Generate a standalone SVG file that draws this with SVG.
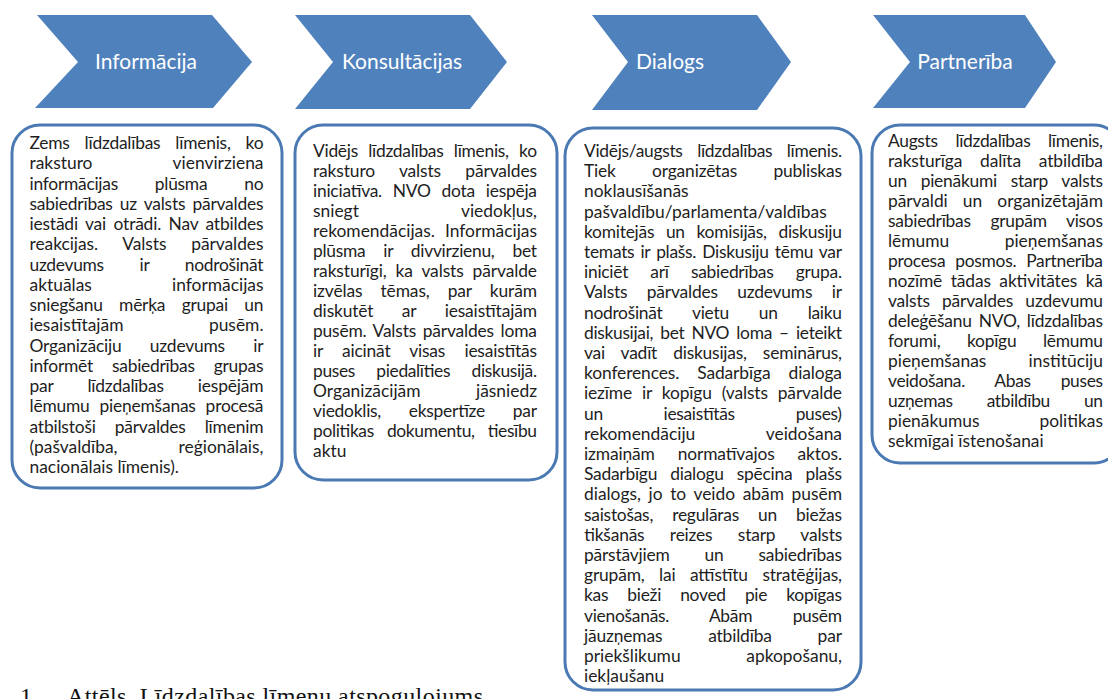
<svg xmlns="http://www.w3.org/2000/svg" width="1108" height="699" viewBox="0 0 1108 699">
<style>
.chev{fill:#4F81BD}
.ct{font-family:Lato,"Open Sans",sans-serif;font-size:21px;fill:#fff;text-anchor:middle}
.box{fill:#fff;stroke:#4A79B3;stroke-width:3}
text.t{font-family:Lato,"Open Sans",sans-serif;font-size:17.4px;fill:#1e1e1e}
.e{text-anchor:end}
.cap{font-family:"Liberation Serif",serif;font-size:24px;fill:#111}
</style>
<rect width="1108" height="699" fill="#fff"/>
<g id="chevrons">
<g id="chev-informacija"><polygon class="chev" points="37,15 212,15 252,62 213,108 35,108 78,62"/><text class="ct" x="146" y="69">Informācija</text></g>
<g id="chev-konsultacijas"><polygon class="chev" points="295,15 470,15 507,62 470,109 295,109 333,62"/><text class="ct" x="402" y="69">Konsultācijas</text></g>
<g id="chev-dialogs"><polygon class="chev" points="592,15 757,15 791,62 757,110 592,110 628,62"/><text class="ct" x="670" y="69">Dialogs</text></g>
<g id="chev-partneriba"><polygon class="chev" points="873,15 1025,15 1056,62 1025,108 873,108 910,62"/><text class="ct" x="965" y="69">Partnerība</text></g>
</g>
<g id="connectors"></g>
<g id="box-informacija">
<rect class="box" x="12" y="125" width="270" height="363" rx="28"/>
<text class="t" x="29.5" y="149" textLength="234" lengthAdjust="spacing" style="word-spacing:10.7px">Zems līdzdalības līmenis, ko</text>
<text class="t" x="29.5" y="169.25">raksturo</text><text class="t e" x="263.5" y="169.25">vienvirziena</text>
<text class="t" x="29.5" y="189.5" textLength="234" lengthAdjust="spacing" style="word-spacing:32.7px">informācijas plūsma no</text>
<text class="t" x="29.5" y="209.75" textLength="234" lengthAdjust="spacing" style="word-spacing:2.9px">sabiedrības uz valsts pārvaldes</text>
<text class="t" x="29.5" y="230" textLength="234" lengthAdjust="spacing" style="word-spacing:3.2px">iestādi vai otrādi. Nav atbildes</text>
<text class="t" x="29.5" y="250.25" textLength="234" lengthAdjust="spacing" style="word-spacing:20.4px">reakcijas. Valsts pārvaldes</text>
<text class="t" x="29.5" y="270.5" textLength="234" lengthAdjust="spacing" style="word-spacing:31.6px">uzdevums ir nodrošināt</text>
<text class="t" x="29.5" y="290.75">aktuālas</text><text class="t e" x="263.5" y="290.75">informācijas</text>
<text class="t" x="29.5" y="311" textLength="234" lengthAdjust="spacing" style="word-spacing:12.2px">sniegšanu mērķa grupai un</text>
<text class="t" x="29.5" y="331.25">iesaistītajām</text><text class="t e" x="263.5" y="331.25">pusēm.</text>
<text class="t" x="29.5" y="351.5" textLength="234" lengthAdjust="spacing" style="word-spacing:24px">Organizāciju uzdevums ir</text>
<text class="t" x="29.5" y="371.75" textLength="234" lengthAdjust="spacing" style="word-spacing:14.8px">informēt sabiedrības grupas</text>
<text class="t" x="29.5" y="392" textLength="234" lengthAdjust="spacing" style="word-spacing:29.8px">par līdzdalības iespējām</text>
<text class="t" x="29.5" y="412.25" textLength="234" lengthAdjust="spacing" style="word-spacing:5.7px">lēmumu pieņemšanas procesā</text>
<text class="t" x="29.5" y="432.5" textLength="234" lengthAdjust="spacing" style="word-spacing:14.7px">atbilstoši pārvaldes līmenim</text>
<text class="t" x="29.5" y="452.75">(pašvaldība,</text><text class="t e" x="263.5" y="452.75">reģionālais,</text>
<text class="t" x="29.5" y="473">nacionālais līmenis).</text>
</g>
<g id="box-konsultacijas">
<rect class="box" x="295" y="125" width="262" height="355" rx="28"/>
<text class="t" x="313" y="157" textLength="224" lengthAdjust="spacing" style="word-spacing:6.2px">Vidējs līdzdalības līmenis, ko</text>
<text class="t" x="313" y="177" textLength="224" lengthAdjust="spacing" style="word-spacing:20px">raksturo valsts pārvaldes</text>
<text class="t" x="313" y="197" textLength="224" lengthAdjust="spacing" style="word-spacing:6.6px">iniciatīva. NVO dota iespēja</text>
<text class="t" x="313" y="217">sniegt</text><text class="t e" x="537" y="217">viedokļus,</text>
<text class="t" x="313" y="237">rekomendācijas.</text><text class="t e" x="537" y="237">Informācijas</text>
<text class="t" x="313" y="257" textLength="224" lengthAdjust="spacing" style="word-spacing:13.8px">plūsma ir divvirzienu, bet</text>
<text class="t" x="313" y="277" textLength="224" lengthAdjust="spacing" style="word-spacing:4.6px">raksturīgi, ka valsts pārvalde</text>
<text class="t" x="313" y="297" textLength="224" lengthAdjust="spacing" style="word-spacing:13.7px">izvēlas tēmas, par kurām</text>
<text class="t" x="313" y="317" textLength="224" lengthAdjust="spacing" style="word-spacing:24.2px">diskutēt ar iesaistītajām</text>
<text class="t" x="313" y="337" textLength="224" lengthAdjust="spacing" style="word-spacing:2.4px">pusēm. Valsts pārvaldes loma</text>
<text class="t" x="313" y="357" textLength="224" lengthAdjust="spacing" style="word-spacing:15px">ir aicināt visas iesaistītās</text>
<text class="t" x="313" y="377" textLength="224" lengthAdjust="spacing" style="word-spacing:17.3px">puses piedalīties diskusijā.</text>
<text class="t" x="313" y="397">Organizācijām</text><text class="t e" x="537" y="397">jāsniedz</text>
<text class="t" x="313" y="417" textLength="224" lengthAdjust="spacing" style="word-spacing:23.6px">viedoklis, ekspertīze par</text>
<text class="t" x="313" y="437" textLength="224" lengthAdjust="spacing" style="word-spacing:9px">politikas dokumentu, tiesību</text>
<text class="t" x="313" y="457">aktu</text>
</g>
<g id="box-dialogs">
<rect class="box" x="565" y="128" width="296" height="562" rx="28"/>
<text class="t" x="584" y="157" textLength="258" lengthAdjust="spacing" style="word-spacing:10.4px">Vidējs/augsts līdzdalības līmenis.</text>
<text class="t" x="584" y="177.2" textLength="258" lengthAdjust="spacing" style="word-spacing:32.1px">Tiek organizētas publiskas</text>
<text class="t" x="584" y="197.4">noklausīšanās</text>
<text class="t" x="584" y="217.6">pašvaldību/parlamenta/valdības</text>
<text class="t" x="584" y="237.8" textLength="258" lengthAdjust="spacing" style="word-spacing:7.5px">komitejās un komisijās, diskusiju</text>
<text class="t" x="584" y="258" textLength="258" lengthAdjust="spacing" style="word-spacing:1.9px">temats ir plašs. Diskusiju tēmu var</text>
<text class="t" x="584" y="278.2" textLength="258" lengthAdjust="spacing" style="word-spacing:18px">iniciēt arī sabiedrības grupa.</text>
<text class="t" x="584" y="298.4" textLength="258" lengthAdjust="spacing" style="word-spacing:15.1px">Valsts pārvaldes uzdevums ir</text>
<text class="t" x="584" y="318.6" textLength="258" lengthAdjust="spacing" style="word-spacing:25.9px">nodrošināt vietu un laiku</text>
<text class="t" x="584" y="338.8" textLength="258" lengthAdjust="spacing" style="word-spacing:3px">diskusijai, bet NVO loma – ieteikt</text>
<text class="t" x="584" y="359" textLength="258" lengthAdjust="spacing" style="word-spacing:11.8px">vai vadīt diskusijas, seminārus,</text>
<text class="t" x="584" y="379.2" textLength="258" lengthAdjust="spacing" style="word-spacing:13.7px">konferences. Sadarbīga dialoga</text>
<text class="t" x="584" y="399.4" textLength="258" lengthAdjust="spacing" style="word-spacing:5.6px">iezīme ir kopīgu (valsts pārvalde</text>
<text class="t" x="584" y="419.6" textLength="258" lengthAdjust="spacing" style="word-spacing:56.7px">un iesaistītās puses)</text>
<text class="t" x="584" y="439.8">rekomendāciju</text><text class="t e" x="842" y="439.8">veidošana</text>
<text class="t" x="584" y="460" textLength="258" lengthAdjust="spacing" style="word-spacing:18.7px">izmaiņām normatīvajos aktos.</text>
<text class="t" x="584" y="480.2" textLength="258" lengthAdjust="spacing" style="word-spacing:8.9px">Sadarbīgu dialogu spēcina plašs</text>
<text class="t" x="584" y="500.4" textLength="258" lengthAdjust="spacing" style="word-spacing:3.2px">dialogs, jo to veido abām pusēm</text>
<text class="t" x="584" y="520.6" textLength="258" lengthAdjust="spacing" style="word-spacing:14.9px">saistošas, regulāras un biežas</text>
<text class="t" x="584" y="540.8" textLength="258" lengthAdjust="spacing" style="word-spacing:21.2px">tikšanās reizes starp valsts</text>
<text class="t" x="584" y="561" textLength="258" lengthAdjust="spacing" style="word-spacing:30.7px">pārstāvjiem un sabiedrības</text>
<text class="t" x="584" y="581.2" textLength="258" lengthAdjust="spacing" style="word-spacing:10.2px">grupām, lai attīstītu stratēģijas,</text>
<text class="t" x="584" y="601.4" textLength="258" lengthAdjust="spacing" style="word-spacing:14.9px">kas bieži noved pie kopīgas</text>
<text class="t" x="584" y="621.6" textLength="258" lengthAdjust="spacing" style="word-spacing:36.2px">vienošanās. Abām pusēm</text>
<text class="t" x="584" y="641.8" textLength="258" lengthAdjust="spacing" style="word-spacing:41.6px">jāuzņemas atbildība par</text>
<text class="t" x="584" y="662">priekšlikumu</text><text class="t e" x="842" y="662">apkopošanu,</text>
<text class="t" x="584" y="682.2">iekļaušanu</text>
</g>
<g id="box-partneriba">
<rect class="box" x="872" y="125" width="250" height="338" rx="28"/>
<text class="t" x="888" y="147" textLength="215" lengthAdjust="spacing" style="word-spacing:13.5px">Augsts līdzdalības līmenis,</text>
<text class="t" x="888" y="167" textLength="215" lengthAdjust="spacing" style="word-spacing:13.4px">raksturīga dalīta atbildība</text>
<text class="t" x="888" y="187" textLength="215" lengthAdjust="spacing" style="word-spacing:9.5px">un pienākumi starp valsts</text>
<text class="t" x="888" y="207" textLength="215" lengthAdjust="spacing" style="word-spacing:10.8px">pārvaldi un organizētajām</text>
<text class="t" x="888" y="227" textLength="215" lengthAdjust="spacing" style="word-spacing:15.4px">sabiedrības grupām visos</text>
<text class="t" x="888" y="247">lēmumu</text><text class="t e" x="1103" y="247">pieņemšanas</text>
<text class="t" x="888" y="267" textLength="215" lengthAdjust="spacing" style="word-spacing:5.7px">procesa posmos. Partnerība</text>
<text class="t" x="888" y="287" textLength="215" lengthAdjust="spacing" style="word-spacing:4.2px">nozīmē tādas aktivitātes kā</text>
<text class="t" x="888" y="307" textLength="215" lengthAdjust="spacing" style="word-spacing:7.9px">valsts pārvaldes uzdevumu</text>
<text class="t" x="888" y="327" textLength="215" lengthAdjust="spacing" style="word-spacing:2.7px">deleģēšanu NVO, līdzdalības</text>
<text class="t" x="888" y="347" textLength="215" lengthAdjust="spacing" style="word-spacing:22.5px">forumi, kopīgu lēmumu</text>
<text class="t" x="888" y="367">pieņemšanas</text><text class="t e" x="1103" y="367">institūciju</text>
<text class="t" x="888" y="387" textLength="215" lengthAdjust="spacing" style="word-spacing:25.9px">veidošana. Abas puses</text>
<text class="t" x="888" y="407" textLength="215" lengthAdjust="spacing" style="word-spacing:29.8px">uzņemas atbildību un</text>
<text class="t" x="888" y="427">pienākumus</text><text class="t e" x="1103" y="427">politikas</text>
<text class="t" x="888" y="447">sekmīgai īstenošanai</text>
</g>
<g id="caption">
<text class="cap" x="20" y="704">1.</text>
<text class="cap" x="67" y="704" textLength="416" lengthAdjust="spacing">Attēls. Līdzdalības līmeņu atspoguļojums</text>
</g>
</svg>
